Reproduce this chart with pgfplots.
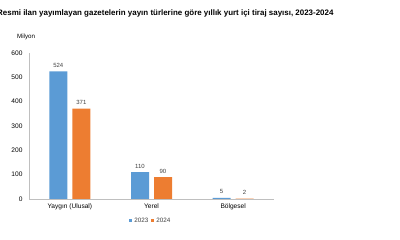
\documentclass[border=0pt]{standalone}
\usepackage{pgfplots}
\pgfplotsset{compat=1.18}
\usepackage{fontspec}
\setmainfont{Liberation Sans}
\definecolor{c23}{HTML}{5B9BD5}
\definecolor{c24}{HTML}{ED7D31}
\definecolor{axgray}{HTML}{BFBFBF}
\begin{document}
\begin{tikzpicture}[x=1pt,y=1pt]
\useasboundingbox (0pt,0pt) rectangle (400pt,240pt);
\node[anchor=base west, font=\bfseries\fontsize{7.95}{8}\selectfont, inner sep=0] at (-3pt,224pt) {Resmi ilan yayımlayan gazetelerin yayın türlerine göre yıllık yurt içi tiraj sayısı, 2023-2024};
\node[anchor=west, font=\fontsize{6.2}{7}\selectfont, inner sep=0] at (17pt,203pt) {Milyon};
\begin{axis}[
  at={(29pt,41pt)}, anchor=south west,
  scale only axis, width=245pt, height=146pt,
  xmin=-0.5, xmax=2.5, ymin=0, ymax=600,
  ytick={0,100,...,600},
  xtick={0,1,2},
  xticklabels={Yaygın (Ulusal),Yerel,Bölgesel},
  axis x line*=bottom, axis y line*=left,
  axis line style={axgray, line width=0.6pt},
  major tick length=0pt,
  tick label style={font=\fontsize{6.6}{7}\selectfont, black},
  yticklabel style={xshift=-3pt},
  xticklabel style={yshift=-1.5pt},
  /pgf/number format/assume math mode=true,
  ybar=5pt, bar width=18pt,
  nodes near coords,
  nodes near coords style={font=\fontsize{6}{7}\selectfont, color=black!75, yshift=0.5pt},
  legend style={at={(0.494,-0.15)}, anchor=center, draw=none, font=\fontsize{6.3}{7}\selectfont, column sep=2pt, inner sep=0pt, text=black!75, nodes={inner sep=0.6pt}},
  legend columns=2,
  legend image code/.code={\fill[#1] (0pt,-1.4pt) rectangle (2.8pt,1.4pt);},
]
\addplot[fill=c23, draw=none] coordinates {(0,524) (1,110) (2,5)};
\addplot[fill=c24, draw=none] coordinates {(0,371) (1,90) (2,2)};
\legend{2023,2024}
\end{axis}
\end{tikzpicture}
\end{document}
